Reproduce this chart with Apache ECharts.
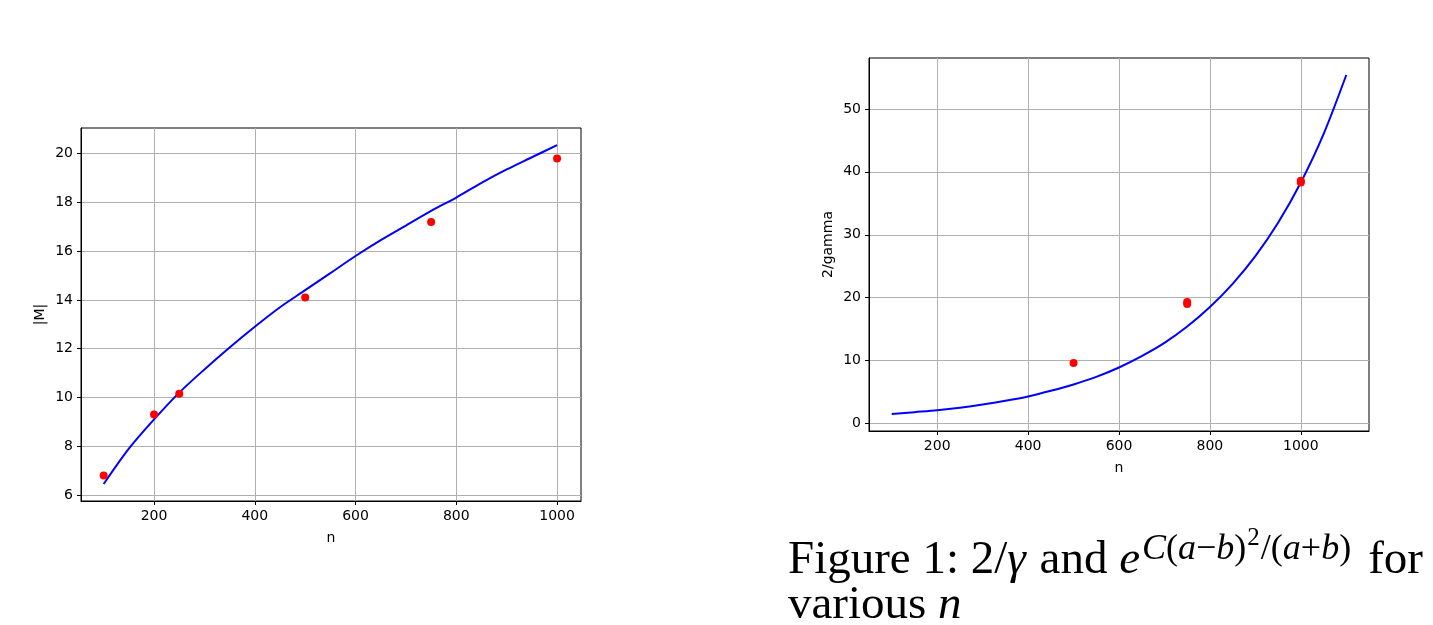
<!DOCTYPE html>
<html>
<head>
<meta charset="utf-8">
<script src="https://cdn.jsdelivr.net/npm/echarts@6/dist/echarts.min.js"></script>
<style>
  html, body { margin: 0; padding: 0; background: #fff; }
  #chart { width: 1433px; height: 625px; }
</style>
</head>
<body>
<div id="chart"></div>
<script>
// Left panel: |M| against n
var leftN = [100, 150, 200, 250, 300, 350, 400, 450, 500, 550, 600, 650, 700, 750, 800, 850, 900, 950, 1000];
var leftFit = [6.45, 7.9, 9.1, 10.2, 11.15, 12.05, 12.9, 13.7, 14.4, 15.1, 15.8, 16.45, 17.05, 17.65, 18.2, 18.8, 19.35, 19.85, 20.35];
var leftPointN = [100, 200, 250, 500, 750, 1000];
var leftPointM = [6.8, 9.3, 10.15, 14.1, 17.2, 19.8];
var leftXTicks = [200, 400, 600, 800, 1000];
var leftYTicks = [6, 8, 10, 12, 14, 16, 18, 20];

// Right panel: 2/gamma against n
var rightN = [100, 150, 200, 250, 300, 350, 400, 450, 500, 550, 600, 650, 700, 750, 800, 850, 900, 950, 1000, 1050, 1100];
var rightFit = [1.5, 1.8, 2.1, 2.5, 3.0, 3.6, 4.3, 5.2, 6.2, 7.4, 8.9, 10.7, 12.8, 15.4, 18.5, 22.2, 26.6, 31.9, 38.3, 46.0, 55.4];
var rightPointN = [500, 750, 750, 1000, 1000];
var rightPointG = [9.6, 19.0, 19.3, 38.3, 38.6];
var rightXTicks = [200, 400, 600, 800, 1000];
var rightYTicks = [0, 10, 20, 30, 40, 50];

function pairs(xs, ys) {
  return xs.map(function (x, i) { return [x, ys[i]]; });
}

var font = 'DejaVu Sans';

function axis(name, min, max, ticks, gap, rotate, margin) {
  return {
    type: 'value',
    name: name,
    nameLocation: 'middle',
    nameGap: gap,
    nameRotate: rotate,
    nameTextStyle: { color: '#000', fontFamily: font, fontSize: 14 },
    min: min,
    max: max,
    axisLine: { show: true, onZero: false, lineStyle: { color: '#000', width: 1 } },
    axisTick: { show: true, inside: false, length: 4, customValues: ticks, lineStyle: { color: '#000' } },
    axisLabel: {
      color: '#000', fontFamily: font, fontSize: 14, margin: margin, customValues: ticks,
      formatter: function (v) { return String(v); }
    },
    splitLine: { show: true, lineStyle: { color: '#b0b0b0', width: 1 } }
  };
}

var chart = echarts.init(document.getElementById('chart'), null, { renderer: 'canvas' });

var serif = 'Liberation Serif';
var big = 47, small = 36, tiny = 25;

var option = {
  animation: false,
  backgroundColor: '#fff',
  grid: [
    { left: 81, top: 128, width: 500, height: 373, show: true, borderColor: '#000', borderWidth: 1 },
    { left: 869, top: 58, width: 500, height: 373, show: true, borderColor: '#000', borderWidth: 1 }
  ],
  xAxis: [
    Object.assign(axis('n', 55, 1047.5, leftXTicks, 30, 0, 8), { gridIndex: 0 }),
    Object.assign(axis('n', 50, 1150, rightXTicks, 30, 0, 8), { gridIndex: 1 })
  ],
  yAxis: [
    Object.assign(axis('|M|', 5.755, 21.05, leftYTicks, 34, 90, 8), { gridIndex: 0 }),
    Object.assign(axis('2/gamma', -1.2, 58.1, rightYTicks, 34, 90, 8), { gridIndex: 1 })
  ],
  series: [
    {
      type: 'line', xAxisIndex: 0, yAxisIndex: 0,
      data: pairs(leftN, leftFit), showSymbol: false, smooth: 0.3,
      lineStyle: { color: '#0000ff', width: 2 }, z: 2
    },
    {
      type: 'scatter', xAxisIndex: 0, yAxisIndex: 0,
      data: pairs(leftPointN, leftPointM), symbolSize: 8,
      itemStyle: { color: '#ff0000', opacity: 1 }, z: 3
    },
    {
      type: 'line', xAxisIndex: 1, yAxisIndex: 1,
      data: pairs(rightN, rightFit), showSymbol: false, smooth: 0.3,
      lineStyle: { color: '#0000ff', width: 2 }, z: 2
    },
    {
      type: 'scatter', xAxisIndex: 1, yAxisIndex: 1,
      data: pairs(rightPointN, rightPointG), symbolSize: 8,
      itemStyle: { color: '#ff0000', opacity: 1 }, z: 3
    }
  ],
  graphic: [
    {
      type: 'text', left: 788, top: 526,
      style: {
        text: '{r|Figure 1: 2/}{i|γ}{r| and }{i|e}{s|C}{sr|(}{s|a}{sr|−}{s|b}{sr|)}{ss|2}{sr|/(}{s|a}{sr|+}{s|b}{sr|)}{f|for}',
        rich: {
          r: { fontFamily: serif, fontSize: big, lineHeight: big, verticalAlign: 'bottom', fill: '#000' },
          f: { fontFamily: serif, fontSize: big, lineHeight: big, verticalAlign: 'bottom', padding: [0, 0, 0, 17], fill: '#000' },
          i: { fontFamily: serif, fontSize: big, lineHeight: big, fontStyle: 'italic', verticalAlign: 'bottom', padding: [0, 2, 0, 0], fill: '#000' },
          s: { fontFamily: serif, fontSize: small, lineHeight: small, fontStyle: 'italic', verticalAlign: 'bottom', padding: [0, 0, 16, 0], fill: '#000' },
          sr: { fontFamily: serif, fontSize: small, lineHeight: small, verticalAlign: 'bottom', padding: [0, 0, 16, 0], fill: '#000' },
          ss: { fontFamily: serif, fontSize: tiny, lineHeight: tiny, verticalAlign: 'bottom', padding: [0, 1, 33, 1], fill: '#000' }
        }
      }
    },
    {
      type: 'text', left: 788, top: 582,
      style: {
        text: '{r|various }{i|n}',
        rich: {
          r: { fontFamily: serif, fontSize: big, lineHeight: big, fill: '#000' },
          i: { fontFamily: serif, fontSize: big, lineHeight: big, fontStyle: 'italic', fill: '#000' }
        }
      }
    }
  ]
};

chart.setOption(option);
</script>
</body>
</html>
